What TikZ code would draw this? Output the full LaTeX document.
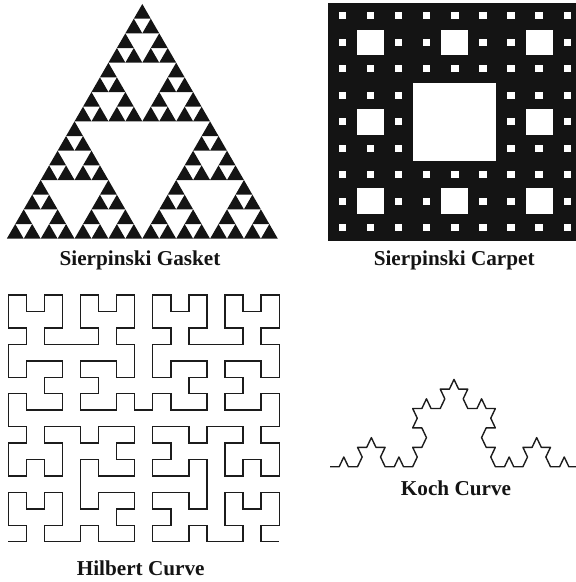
\documentclass[tikz,border=0pt]{standalone}
\usepackage{fontspec}
\setmainfont{Liberation Serif}
\usetikzlibrary{lindenmayersystems}
\definecolor{inkcol}{HTML}{141414}
\definecolor{linecol}{HTML}{1C1C1C}
\pgfdeclarelindenmayersystem{Hilbert}{
  \rule{L -> +RF-LFL-FR+}
  \rule{R -> -LF+RFR+FL-}
}
\pgfdeclarelindenmayersystem{Koch}{
  \rule{F -> F+F--F+F}
}
\tikzset{
  lbl/.style={anchor=base, inner sep=0pt, text=inkcol, font=\fontsize{10.6}{12}\selectfont\bfseries},
  fcurve/.style={draw=linecol, line width=0.7pt, line join=miter},
}

\begin{document}
\begin{tikzpicture}[x=0.5pt, y=-0.5pt]
  \useasboundingbox (0,0) rectangle (576,582);
  \clip (0,0) rectangle (576,582);
  % gasket: odd entries of Pascal's triangle, 16 rows
  \begin{scope}[shift={(142.3,4)}, x=8.47pt, y=-7.335pt]
    \foreach \r in {0,...,15}
      \foreach \c in {0,...,\r} {
        \pgfmathtruncatemacro\hit{mod(\c,2)*mod(\r-\c,2)
          + mod(floor(\c/2),2)*mod(floor((\r-\c)/2),2)
          + mod(floor(\c/4),2)*mod(floor((\r-\c)/4),2)
          + mod(floor(\c/8),2)*mod(floor((\r-\c)/8),2)}
        \ifnum\hit=0
          \fill[inkcol] (\c-\r/2,\r) -- (\c-\r/2-0.5,\r+1) -- (\c-\r/2+0.5,\r+1) -- cycle;
        \fi
      }
  \end{scope}
  % carpet, 27 x 27 cells
  \begin{scope}[shift={(328.3,2.7)}, x=4.6875pt, y=-4.41pt]
    \fill[inkcol] (0,0) rectangle (27,27);
    \fill[white] (9.06,9.06) rectangle (17.94,17.94);
    \foreach \i in {0,1,2}
      \foreach \j in {0,1,2}
        \fill[white] (9*\i+3.05,9*\j+3.05) rectangle ++(2.9,2.9);
    \foreach \i in {0,...,8}
      \foreach \j in {0,...,8}
        \fill[white] (3*\i+1.1,3*\j+1.1) rectangle ++(0.8,0.8);
  \end{scope}
  % hilbert
  \begin{scope}[shift={(8.3,541.7)}, xscale=9.03, yscale=8.22]
    \draw[fcurve, l-system={Hilbert, axiom=L, order=4, step=1pt, angle=90}] (0,0) lindenmayer system;
  \end{scope}
  % koch
  \begin{scope}[shift={(330,466.7)}, xscale=4.593, yscale=5.6]
    \draw[fcurve, line join=round, l-system={Koch, axiom=F, order=3, step=1pt, angle=60}] (0,0) lindenmayer system;
  \end{scope}
  \node[lbl] (gasketlbl) at (140,265) {Sierpinski Gasket};
  \node[lbl] (carpetlbl) at (454.2,265) {Sierpinski Carpet};
  \node[lbl] (hilbertlbl) at (140.7,575) {Hilbert Curve};
  \node[lbl] (kochlbl) at (456,495) {Koch Curve};
\end{tikzpicture}
\end{document}
